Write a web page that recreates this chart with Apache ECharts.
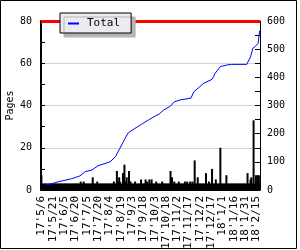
<!DOCTYPE html>
<html>
<head>
<meta charset="utf-8">
<script src="https://cdn.jsdelivr.net/npm/echarts@6/dist/echarts.min.js"></script>
<style>
  html, body { margin: 0; padding: 0; background: #fff; }
  #main { width: 300px; height: 250px; }
</style>
</head>
<body>
<div id="main"></div>
<script>
// 日次ページ数 (2017/5/6 から 290 日)
var startDate = [2017, 5, 6];
var dayCount = 290;
var pages = [
  7,3,3,3,3,3,3,3,3,3,3,3,3,3,3,3,3,3,3,3,
  3,3,3,3,3,3,3,3,3,3,3,3,3,3,3,3,3,3,3,3,
  3,3,3,3,3,3,3,3,3,3,3,3,4,3,3,3,4,3,3,3,
  3,3,3,3,3,3,3,3,6,3,3,3,3,3,4,3,3,3,3,3,
  3,3,3,3,3,3,3,3,3,3,3,3,3,3,3,3,4,3,3,3,
  9,4,3,6,4,3,3,3,8,4,12,4,3,6,3,3,9,4,4,3,
  3,3,3,3,4,3,3,3,3,3,3,3,5,3,3,3,3,3,5,3,
  4,3,3,5,3,3,5,3,3,3,3,3,4,3,3,3,3,3,3,3,
  4,3,3,3,3,3,3,3,3,3,3,9,4,6,3,3,4,3,3,3,
  3,3,4,3,3,3,3,3,3,3,4,3,3,4,3,3,3,4,3,3,
  4,3,3,14,3,3,3,6,3,3,3,3,3,3,3,3,3,3,8,3,
  3,3,4,3,3,3,10,3,3,3,3,5,3,3,3,3,3,20,3,3,
  3,3,3,3,3,7,3,3,3,3,3,3,3,3,3,3,3,3,3,3,
  3,3,3,3,3,3,3,3,3,3,3,3,3,8,3,3,3,5,6,3,
  3,33,3,3,7,3,7,3,7,3
];
// Total (右軸) : [日の番号, 値]
var total = [
  [5, 18], [11, 20], [22, 29], [40, 40], [51, 50], [58, 65], [67, 71],
  [75, 86], [91, 100], [98, 118], [104, 148], [111, 184], [115, 203],
  [124, 219], [133, 234], [142, 249], [151, 263], [156, 270], [162, 284],
  [171, 298], [176, 313], [184, 320], [198, 326], [202, 349], [209, 365],
  [215, 379], [226, 393], [228, 402], [230, 414], [237, 438], [246, 444],
  [252, 446], [272, 446], [277, 473], [280, 503], [283, 509], [287, 521],
  [289, 565]
];
var limit = 80;

// 日付ラベル 17'5/6 形式
var days = [];
for (var i = 0; i < dayCount; i++) {
  var d = new Date(Date.UTC(startDate[0], startDate[1] - 1, startDate[2] + i));
  days.push(String(d.getUTCFullYear()).slice(2) + "'" + (d.getUTCMonth() + 1) + '/' + d.getUTCDate());
}

var mono = 'DejaVu Sans Mono';
var chart = echarts.init(document.getElementById('main'), null, { renderer: 'canvas' });
var option = {
  animation: false,
  backgroundColor: '#fff',
  graphic: [{
    type: 'rect',
    shape: { x: 0.5, y: 0.5, width: 296, height: 248 },
    style: { fill: 'none', stroke: '#000', lineWidth: 1 },
    silent: true
  }],
  legend: {
    z: 20,
    left: 60,
    top: 13,
    data: ['Total'],
    icon: 'rect',
    itemWidth: 11,
    itemHeight: 2,
    padding: [5, 11, 4, 8],
    backgroundColor: '#ecebf1',
    borderColor: '#000',
    borderWidth: 1,
    shadowColor: '#b4b4b4',
    shadowBlur: 0,
    shadowOffsetX: 4,
    shadowOffsetY: 4,
    textStyle: { fontFamily: mono, fontSize: 11, color: '#000', padding: [0, 0, 0, 3] }
  },
  grid: {
    left: 41,
    right: 40,
    top: 21,
    bottom: 60,
    containLabel: false,
    outerBoundsMode: 'none'
  },
  xAxis: {
    type: 'category',
    data: days,
    boundaryGap: true,
    axisLine: { lineStyle: { color: '#000', width: 1 } },
    axisTick: { show: false },
    axisLabel: {
      interval: 14,
      rotate: 90,
      margin: 6,
      fontFamily: mono,
      fontSize: 11,
      color: '#000'
    },
    splitLine: { show: false }
  },
  yAxis: [{
    type: 'value',
    name: 'Pages',
    nameLocation: 'middle',
    nameGap: 26,
    nameMoveOverlap: false,
    nameTextStyle: { fontFamily: mono, fontSize: 10, color: '#000' },
    min: 0,
    max: 80,
    interval: 20,
    axisLine: { show: true, lineStyle: { color: '#000', width: 2 } },
    axisTick: { show: true, inside: true, length: 4, lineStyle: { color: '#000' } },
    minorTick: { show: true, splitNumber: 2, length: 4, lineStyle: { color: '#000' } },
    axisLabel: { margin: 9, fontFamily: mono, fontSize: 10, color: '#000' },
    splitLine: { show: true, lineStyle: { color: '#d4d4d4', width: 1 } }
  }, {
    type: 'value',
    position: 'right',
    min: 0,
    max: 600,
    interval: 100,
    axisLine: { show: true, lineStyle: { color: '#000', width: 1 } },
    axisTick: { show: true, inside: true, length: 5, lineStyle: { color: '#000' } },
    minorTick: { show: true, splitNumber: 2, length: 5, lineStyle: { color: '#000' } },
    axisLabel: { margin: 7, fontFamily: mono, fontSize: 10, color: '#000' },
    splitLine: { show: false }
  }],
  series: [{
    name: 'Pages',
    type: 'bar',
    yAxisIndex: 0,
    data: pages,
    barWidth: 2,
    itemStyle: { color: '#000' },
    markLine: {
      silent: true,
      symbol: 'none',
      label: { show: false },
      lineStyle: { color: '#ff0000', width: 3, type: 'solid' },
      data: [{ yAxis: limit }]
    }
  }, {
    name: 'Total',
    type: 'line',
    yAxisIndex: 1,
    data: total,
    showSymbol: false,
    lineStyle: { color: '#0000ff', width: 1 },
    itemStyle: { color: '#0000ff' },
    z: 3
  }]
};
chart.setOption(option);
</script>
</body>
</html>
